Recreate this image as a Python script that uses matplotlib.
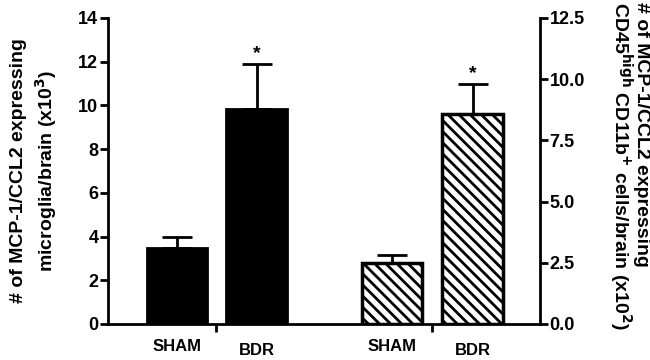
import matplotlib
matplotlib.use("Agg")
import matplotlib.pyplot as plt
import numpy as np

plt.rcParams['font.family'] = ['Liberation Sans', 'DejaVu Sans']
plt.rcParams['font.weight'] = 'bold'
plt.rcParams['hatch.linewidth'] = 2.0

groups = ["SHAM", "BDR"]
# microglia (left axis, x10^3)
micro_mean = [3.5, 9.85]
micro_err = [0.5, 2.05]
# CD45high CD11b+ cells (right axis, x10^2)
cd45_mean = [2.5, 8.58]
cd45_err = [0.32, 1.22]
signif = [False, True]

left_pos = [0.639, 1.375]
right_pos = [2.634, 3.375]
w = 0.556

fig = plt.figure(figsize=(6.5, 3.6), dpi=100)
ax = fig.add_axes([108/650, 36/360, 432/650, 306/360])
ax2 = ax.twinx()

ax.bar(left_pos, micro_mean, width=w, color='black', edgecolor='black', lw=2, zorder=2)
ax.errorbar(left_pos, micro_mean, yerr=[np.zeros(2), micro_err], fmt='none',
            ecolor='black', elinewidth=2, capsize=11, capthick=2, zorder=1)

ax2.bar(right_pos, cd45_mean, width=w, color='white', edgecolor='black', lw=2.5,
        hatch='\\\\\\', zorder=2)
ax2.errorbar(right_pos, cd45_mean, yerr=[np.zeros(2), cd45_err], fmt='none',
             ecolor='black', elinewidth=2, capsize=11, capthick=2, zorder=1)

for x, m, e, s in zip(left_pos, micro_mean, micro_err, signif):
    if s:
        ax.text(x, m + e + 0.1, "*", ha='center', va='bottom', fontsize=14, fontweight='bold')
for x, m, e, s in zip(right_pos, cd45_mean, cd45_err, signif):
    if s:
        ax2.text(x, m + e + 0.08, "*", ha='center', va='bottom', fontsize=14, fontweight='bold')

ax.set_xlim(0, 4)
ax.set_ylim(0, 14)
ax2.set_ylim(0, 12.5)
ax.set_yticks(range(0, 15, 2))
ax2.set_yticks(np.arange(0, 12.6, 2.5))
ax2.set_yticklabels([f"{v:.1f}" for v in np.arange(0, 12.6, 2.5)])
ax.set_xticks([1, 3])
ax.set_xticklabels([])

for a in (ax, ax2):
    a.spines['top'].set_visible(False)
    for sp in ('left', 'right', 'bottom'):
        a.spines[sp].set_linewidth(2)
    a.tick_params(axis='both', width=2, length=6, labelsize=13, pad=1)
ax.spines['right'].set_visible(False)
ax2.spines['left'].set_visible(False)
ax2.spines['bottom'].set_visible(False)

for x, g in zip(left_pos + right_pos, groups + groups):
    dy = -0.072 if g == "SHAM" else -0.085
    ax.text(x, dy, g, transform=ax.get_xaxis_transform(), ha='center', va='center',
            fontsize=12, fontweight='bold')

ax.set_ylabel("# of MCP-1/CCL2 expressing\nmicroglia/brain (x10$^\\mathbf{3}$)",
              fontsize=14, fontweight='bold', labelpad=14, linespacing=1.3)
ax2.set_ylabel("# of MCP-1/CCL2 expressing\nCD45$^\\mathbf{high}$ CD11b$^\\mathbf{+}$ cells/brain (x10$^\\mathbf{2}$)",
               fontsize=14, fontweight='bold', rotation=-90, va='bottom', labelpad=16,
               linespacing=0.95, multialignment='left')
ax2.yaxis.label.set_y(0.515)

fig.savefig("out.png", dpi=100)
